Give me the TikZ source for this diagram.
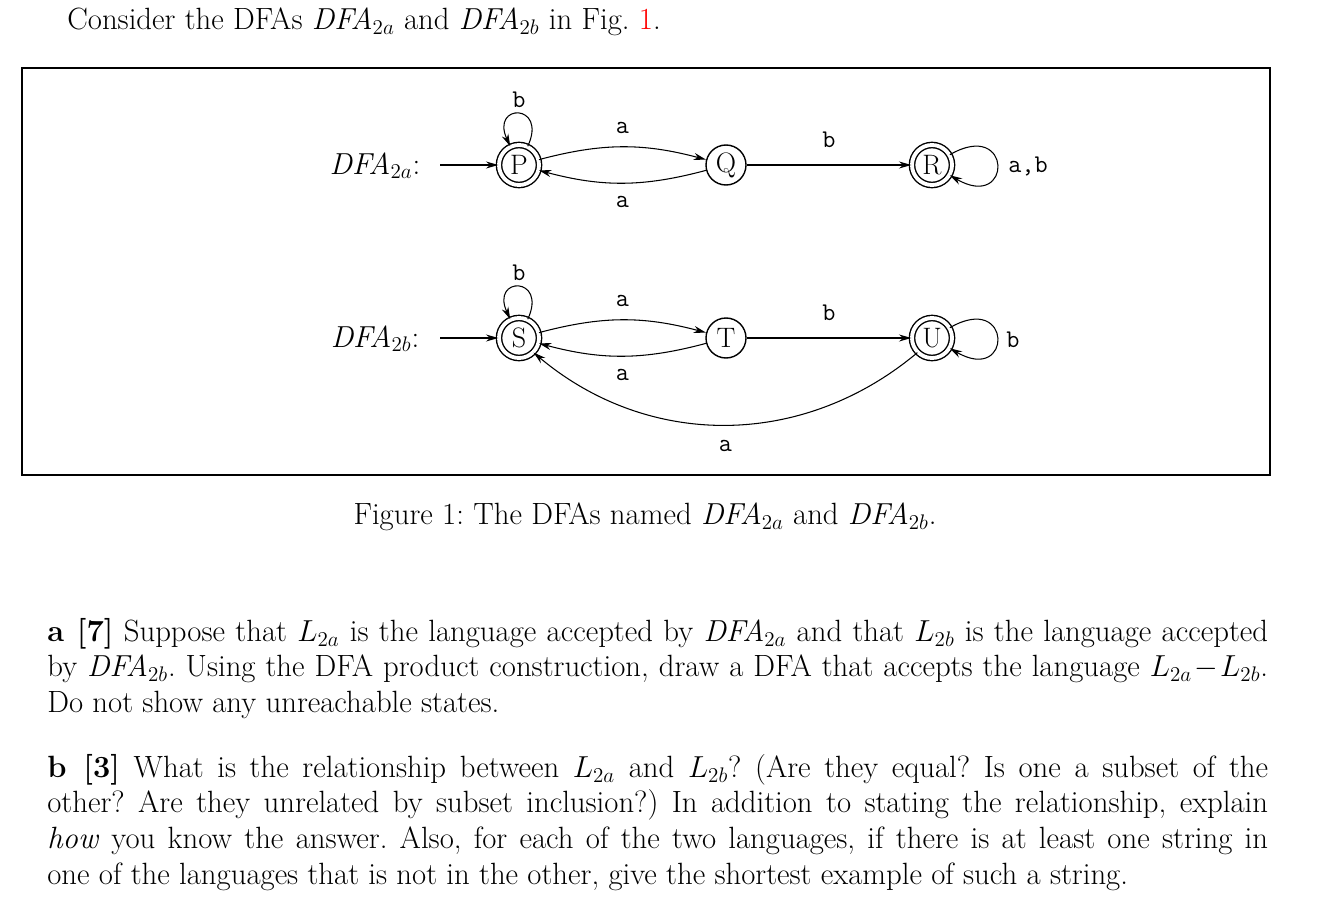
\documentclass[tikz,border=0pt]{standalone}
\usetikzlibrary{arrows.meta}
\begin{document}
\frenchspacing
\begin{tikzpicture}[x=0.02cm,y=-0.02cm,
  every node/.style={font=\fontsize{17.5}{20}\selectfont},
  st/.style={circle,draw,thick,minimum size=40*0.02cm,inner sep=0pt,font=\fontsize{16}{18}\selectfont},
  acc/.style={st,double,double distance=2.2pt},
  lab/.style={font=\fontsize{14.5}{16}\ttfamily},
  ed/.style={-{Stealth[length=7pt,width=4pt]},semithick},
  ln/.style={anchor=west,inner sep=0pt}]
\useasboundingbox (0,0) rectangle (1342,906);
\node[ln] (hdr) at (67,22) {Consider the DFAs $\mathit{DFA}_{2a}$ and $\mathit{DFA}_{2b}$ in Fig.~\textcolor{red}{1}.};
\draw[thick] (22,68) rectangle (1270,475);
% DFA 2a
\node (la) at (375,166) {$\mathit{DFA}_{2a}$:};
\coordinate (sa) at (440,165);
\node[acc] (P) at (519,165) {P};
\node[st] (Q) at (726,165) {Q};
\node[acc] (R) at (932,165) {R};
\draw[ed] (sa) -- (P);
\draw[ed] (P) to[out=65,in=115,looseness=7] node[lab,above]{b} (P);
\draw[ed] (P) to[bend left=15] node[lab,above=4pt]{a} (Q);
\draw[ed] (Q) to[bend left=15] node[lab,below=4pt]{a} (P);
\draw[ed] (Q) -- node[lab,above=6pt]{b} (R);
\draw[ed] (R) to[out=30,in=-30,looseness=9] (R);
\node[lab] (ab) at (1028,166) {a,b};
% DFA 2b
\node (lb) at (375,339) {$\mathit{DFA}_{2b}$:};
\coordinate (sb) at (440,338);
\node[acc] (S) at (519,338) {S};
\node[st] (T) at (726,338) {T};
\node[acc] (U) at (932,338) {U};
\draw[ed] (sb) -- (S);
\draw[ed] (S) to[out=65,in=115,looseness=7] node[lab,above]{b} (S);
\draw[ed] (S) to[bend left=15] node[lab,above=4pt]{a} (T);
\draw[ed] (T) to[bend left=15] node[lab,below=4pt]{a} (S);
\draw[ed] (T) -- node[lab,above=6pt]{b} (U);
\draw[ed] (U) to[out=30,in=-30,looseness=9] (U);
\node[lab] (bl) at (1013,340) {b};
\draw[ed] (U.south west) to[out=-140,in=-40] node[lab,below=5pt]{a} (S.south east);
\node (cap) at (645,517) {Figure 1: The DFAs named $\mathit{DFA}_{2a}$ and $\mathit{DFA}_{2b}$.};
\node[ln] (l1) at (47,634) {\makebox[24.42cm][s]{\textbf{a [7]} Suppose that $L_{2a}$ is the language accepted by $\mathit{DFA}_{2a}$ and that $L_{2b}$ is the language accepted}};
\node[ln] (l2) at (47,669) {\makebox[24.42cm][s]{by $\mathit{DFA}_{2b}$. Using the DFA product construction, draw a DFA that accepts the language $L_{2a}\!-\!L_{2b}$.}};
\node[ln] (l3) at (47,705) {Do not show any unreachable states.};
\node[ln] (l4) at (47,770) {\makebox[24.42cm][s]{\textbf{b [3]} What is the relationship between $L_{2a}$ and $L_{2b}$? (Are they equal? Is one a subset of the}};
\node[ln] (l5) at (47,805) {\makebox[24.42cm][s]{other? Are they unrelated by subset inclusion?) In addition to stating the relationship, explain}};
\node[ln] (l6) at (47,841) {\makebox[24.42cm][s]{\textit{how} you know the answer. Also, for each of the two languages, if there is at least one string in}};
\node[ln] (l7) at (47,877) {one of the languages that is not in the other, give the shortest example of such a string.};
\end{tikzpicture}
\end{document}
